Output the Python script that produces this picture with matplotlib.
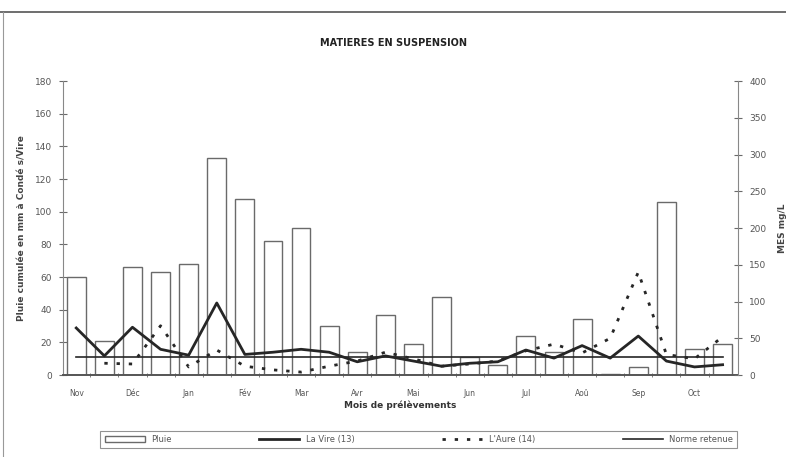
import numpy as np
import matplotlib.pyplot as plt
from matplotlib.lines import Line2D
from matplotlib.patches import Patch

# two samples per month, Nov -> Oct
months = ['Nov', 'Déc', 'Jan', 'Fév', 'Mar', 'Avr', 'Mai', 'Jun', 'Jul', 'Aoû', 'Sep', 'Oct']

# rain (mm) at Condé s/Vire
pluie = [60, 21, 66, 63, 68, 133, 108, 82, 90, 30, 14, 37,
         19, 48, 11, 6, 24, 14, 34, 0.5, 5, 106, 16, 19]

# suspended solids (mg/L)
la_vire = [64, 26, 65, 35, 27, 98, 28, 31, 35, 31, 18, 26,
           19, 12, 16, 18, 34, 23, 40, 23, 53, 19, 11, 14]
l_aure = [None, 16, 15, 67, 11, 34, 12, 7, 4, 12, 19, 31,
          22, 12, 15, 19, 33, 42, 30, 50, 140, 28, 22, 52]
norme = 25

ink = '#262626'
grey = '#6a6a6a'

x = np.arange(len(pluie))

fig = plt.figure(figsize=(7.86, 4.57), dpi=100)
ax = fig.add_axes([0.0802, 0.1794, 0.8588, 0.6433])

ax.bar(x, pluie, width=0.67, facecolor='white', edgecolor=grey, linewidth=1.0, zorder=1)
ax.set_xlim(-0.47, 23.55)
ax.set_ylim(0, 180)
ax.set_yticks(range(0, 181, 20))
ax.set_xticks(x[::2])
ax.set_xticklabels(months)
ax.set_xticks(x[:-1] + 0.5, minor=True)
ax.tick_params(axis='x', which='major', length=0, pad=10, labelsize=5.5, labelcolor='#555555')
ax.tick_params(axis='x', which='minor', length=3, direction='inout', color=grey)
ax.tick_params(axis='y', length=6, direction='inout', color=grey, labelsize=6.5,
               labelcolor='#555555', pad=5)
for side in ['top', 'right']:
    ax.spines[side].set_visible(False)
ax.spines['left'].set_color('#888888')
ax.spines['bottom'].set_color('#555555')
ax.spines['bottom'].set_linewidth(1.4)
ax.set_ylabel('Pluie cumulée en mm à Condé s/Vire', fontsize=6.5, color='#444444',
              fontweight='bold', labelpad=6)
ax.set_xlabel('Mois de prélèvements', fontsize=6.5, color='#333333', fontweight='bold',
              labelpad=2)

ax2 = ax.twinx()
ax2.set_ylim(0, 400)
ax2.set_yticks(range(0, 401, 50))
aure = np.array([np.nan if v is None else v for v in l_aure], dtype=float)
ax2.plot(x, la_vire, color=ink, linewidth=2.0, zorder=4)
ax2.plot(x, aure, color=ink, linewidth=2.0, linestyle=(0, (1.2, 3.2)), zorder=4)
ax2.plot([x[0], x[-1]], [norme, norme], color=ink, linewidth=1.2, zorder=3)
ax2.tick_params(axis='y', length=6, direction='inout', color=grey, labelsize=6.5,
                labelcolor='#555555', pad=5)
for side in ['top', 'left', 'bottom']:
    ax2.spines[side].set_visible(False)
ax2.spines['right'].set_color('#888888')
ax2.set_ylabel('MES mg/L', fontsize=6.5, color='#444444', fontweight='bold', labelpad=8)

fig.text(0.5, 0.906, 'MATIERES EN SUSPENSION', ha='center', va='center',
         fontsize=7, fontweight='semibold', color='#222222')

handles = [
    Patch(facecolor='white', edgecolor=grey, linewidth=1.0),
    Line2D([], [], color=ink, linewidth=2.0),
    Line2D([], [], color=ink, linewidth=2.0, linestyle=(0, (1.2, 3.2))),
    Line2D([], [], color=ink, linewidth=1.2),
]
labels = ['Pluie', 'La Vire (13)', "L'Aure (14)", 'Norme retenue']
leg = fig.legend(handles, labels, loc='center', bbox_to_anchor=(0.533, 0.0385),
                 ncol=4, fontsize=6, frameon=True, fancybox=False, edgecolor='#777777',
                 handlelength=4.8, columnspacing=10.5, borderpad=0.5, handleheight=0.9)
leg.get_frame().set_linewidth(0.8)
for t in leg.get_texts():
    t.set_color('#555555')

# page frame
fig.add_artist(Line2D([0.0, 1.0], [1 - 12 / 457, 1 - 12 / 457], color='#555555', linewidth=1.2))
fig.add_artist(Line2D([3 / 786, 3 / 786], [0.0, 1 - 12 / 457], color='#999999', linewidth=0.8))

fig.savefig('out.png', dpi=100)
